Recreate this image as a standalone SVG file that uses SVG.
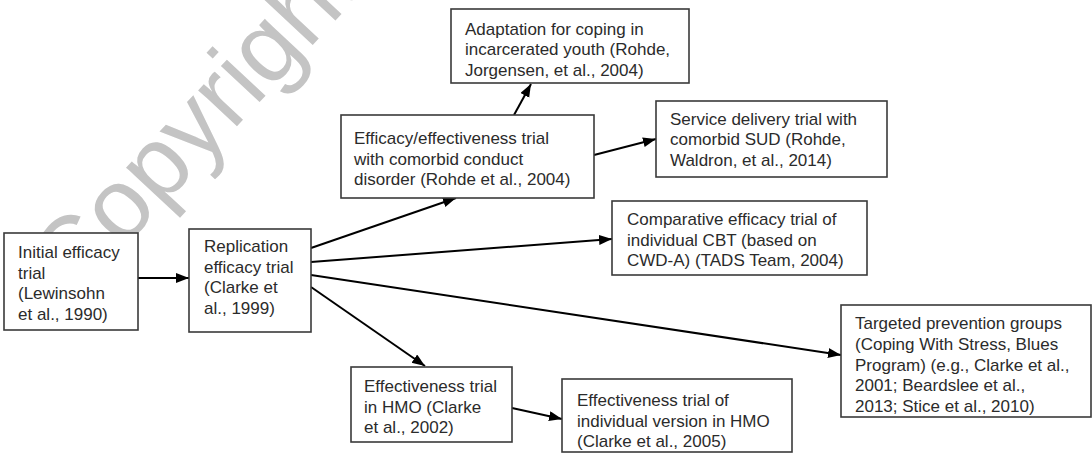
<svg xmlns="http://www.w3.org/2000/svg" width="1092" height="454" viewBox="0 0 1092 454">
<style>
.box{fill:#fff;stroke:#3a3a3a;stroke-width:1.6}
.t{font-family:"Liberation Sans",Arial,sans-serif;font-size:17px;fill:#2b2b2b}
.c{stroke:#000;stroke-width:2;fill:none;marker-end:url(#ah)}
.wm{font-family:"Liberation Sans",Arial,sans-serif;font-size:100px;fill:#c4c4c4}
</style>
<defs>
<marker id="ah" markerUnits="userSpaceOnUse" markerWidth="14" markerHeight="12" refX="13" refY="5" orient="auto">
<path d="M0,0 L13,5 L0,10 z" fill="#000"/>
</marker>
</defs>
<rect width="1092" height="454" fill="#fff"/>
<text class="wm" transform="translate(73,302) rotate(-47)">Copyright</text>
<g id="connectors">
<line class="c" x1="138" y1="278" x2="189" y2="278"/>
<line class="c" x1="514" y1="115" x2="531" y2="84"/>
<line class="c" x1="594" y1="155" x2="656" y2="139"/>
<line class="c" x1="311" y1="248" x2="456" y2="198"/>
<line class="c" x1="311" y1="262" x2="612" y2="239"/>
<line class="c" x1="311" y1="275" x2="841" y2="355"/>
<line class="c" x1="311" y1="287" x2="425" y2="366"/>
<line class="c" x1="512" y1="408" x2="562" y2="419"/>
</g>
<g id="n1">
<rect class="box" x="4" y="233" width="134" height="97"/>
<text class="t" x="18" y="258">Initial efficacy</text>
<text class="t" x="18" y="279">trial</text>
<text class="t" x="18" y="299">(Lewinsohn</text>
<text class="t" x="18" y="320">et al., 1990)</text>
</g>
<g id="n2">
<rect class="box" x="189" y="229" width="122" height="103"/>
<text class="t" x="204" y="252">Replication</text>
<text class="t" x="204" y="273">efficacy trial</text>
<text class="t" x="204" y="293">(Clarke et</text>
<text class="t" x="204" y="314">al., 1999)</text>
</g>
<g id="n3">
<rect class="box" x="341" y="115" width="253" height="83"/>
<text class="t" x="354" y="144">Efficacy/effectiveness trial</text>
<text class="t" x="354" y="164.5">with comorbid conduct</text>
<text class="t" x="354" y="185">disorder (Rohde et al., 2004)</text>
</g>
<g id="n4">
<rect class="box" x="451" y="9" width="238" height="74"/>
<text class="t" x="465" y="34.5">Adaptation for coping in</text>
<text class="t" x="465" y="55">incarcerated youth (Rohde,</text>
<text class="t" x="465" y="75.5">Jorgensen, et al., 2004)</text>
</g>
<g id="n5">
<rect class="box" x="656" y="101" width="231" height="76"/>
<text class="t" x="670" y="124.5">Service delivery trial with</text>
<text class="t" x="670" y="145">comorbid SUD (Rohde,</text>
<text class="t" x="670" y="165.5">Waldron, et al., 2014)</text>
</g>
<g id="n6">
<rect class="box" x="612" y="201" width="255" height="74"/>
<text class="t" x="627" y="225">Comparative efficacy trial of</text>
<text class="t" x="627" y="245.5">individual CBT (based on</text>
<text class="t" x="627" y="266">CWD-A) (TADS Team, 2004)</text>
</g>
<g id="n7">
<rect class="box" x="841" y="305" width="250" height="112"/>
<text class="t" x="855" y="329">Targeted prevention groups</text>
<text class="t" x="855" y="350">(Coping With Stress, Blues</text>
<text class="t" x="855" y="370.5">Program) (e.g., Clarke et al.,</text>
<text class="t" x="855" y="391">2001; Beardslee et al.,</text>
<text class="t" x="855" y="412">2013; Stice et al., 2010)</text>
</g>
<g id="n8">
<rect class="box" x="351" y="367" width="161" height="75"/>
<text class="t" x="364" y="391.5">Effectiveness trial</text>
<text class="t" x="364" y="412.5">in HMO (Clarke</text>
<text class="t" x="364" y="433">et al., 2002)</text>
</g>
<g id="n9">
<rect class="box" x="562" y="379" width="230" height="73"/>
<text class="t" x="577" y="405.5">Effectiveness trial of</text>
<text class="t" x="577" y="426.5">individual version in HMO</text>
<text class="t" x="577" y="447">(Clarke et al., 2005)</text>
</g>
</svg>
